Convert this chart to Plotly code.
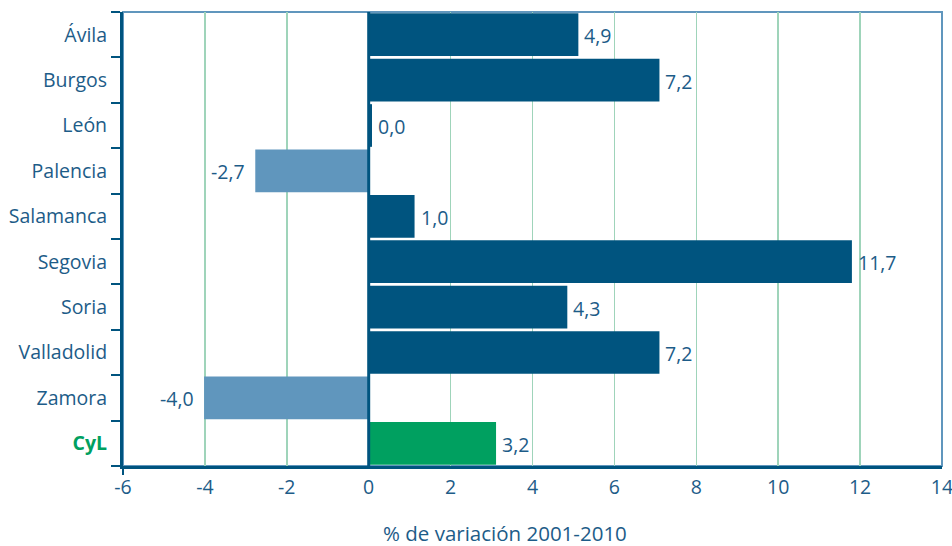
import plotly.graph_objects as go

# Data
provinces = ["Ávila", "Burgos", "León", "Palencia", "Salamanca",
             "Segovia", "Soria", "Valladolid", "Zamora", "CyL"]
bar_values = [5.12, 7.1, 0.08, -2.77, 1.12, 11.8, 4.85, 7.1, -4.02, 3.11]
value_labels = ["4,9", "7,2", "0,0", "-2,7", "1,0", "11,7", "4,3", "7,2", "-4,0", "3,2"]
x_ticks = [-6, -4, -2, 0, 2, 4, 6, 8, 10, 12, 14]
x_title = "% de variación 2001-2010"

DARK = "#00547f"
LIGHT = "#6096bd"
GREEN = "#00a060"
TEXT = "#1d5c88"
GRID = "#9fd4ba"
FONT = "Open Sans"
FS = 19.5

colors = []
for p, v in zip(provinces, bar_values):
    if p == "CyL":
        colors.append(GREEN)
    elif v < 0:
        colors.append(LIGHT)
    else:
        colors.append(DARK)

tick_text = [p if p != "CyL" else f"<b><span style='color:{GREEN}'>CyL</span></b>"
             for p in provinces]

fig = go.Figure(go.Bar(
    x=bar_values,
    y=provinces,
    orientation="h",
    marker=dict(color=colors, line=dict(width=0)),
    hoverinfo="skip",
))

annotations = []
for p, v, lab in zip(provinces, bar_values, value_labels):
    annotations.append(dict(
        x=v, y=p, xref="x", yref="y", text=lab, showarrow=False,
        xanchor="left" if v >= 0 else "right",
        xshift=4 if v >= 0 else -8, yshift=-1,
        font=dict(size=FS, color=TEXT, family=FONT),
    ))
# axis title (offset left of the plot centre, as in the reference)
annotations.append(dict(
    x=0.466, y=0, xref="paper", yref="paper", text=x_title, showarrow=False,
    xanchor="center", yanchor="middle", yshift=-67,
    font=dict(size=20.5, color=TEXT, family=FONT),
))

fig.update_layout(
    width=952, height=546,
    margin=dict(l=123, r=10, t=12, b=80, autoexpand=False),
    paper_bgcolor="white", plot_bgcolor="white",
    bargap=0.06,
    showlegend=False,
    font=dict(family=FONT, size=FS, color=TEXT),
    annotations=annotations,
    xaxis=dict(
        range=[-6, 14],
        tickvals=x_ticks,
        ticktext=[str(t) for t in x_ticks],
        showgrid=True, gridcolor=GRID, gridwidth=1.5,
        zeroline=False, automargin=False,
        showline=True, linecolor=DARK, linewidth=3,
        ticks="", tickfont=dict(size=FS, color=TEXT),
        ticklabeloverflow="allow", ticklabelstandoff=2,
    ),
    yaxis=dict(
        categoryorder="array", categoryarray=provinces,
        autorange="reversed", automargin=False,
        tickvals=provinces, ticktext=tick_text,
        showgrid=False, zeroline=False,
        showline=True, linecolor=DARK, linewidth=3,
        ticks="outside", tickson="boundaries", ticklen=9,
        tickwidth=2, tickcolor=DARK,
        tickfont=dict(size=FS, color=TEXT),
        ticklabelstandoff=9,
    ),
    shapes=[
        dict(type="rect", xref="paper", yref="paper", x0=0, x1=1, y0=0, y1=1,
             line=dict(color=LIGHT, width=2), layer="below"),
        dict(type="line", xref="x", yref="paper", x0=0, x1=0, y0=0, y1=1,
             line=dict(color=DARK, width=3), layer="above"),
        dict(type="line", xref="paper", yref="paper", x0=0, x1=0, y0=0, y1=-0.02,
             line=dict(color=DARK, width=2), layer="above"),
    ],
)

# remove the default page margin so the figure fills the window exactly
fig.write_html("out.html",
               config={"displayModeBar": False, "staticPlot": True},
               post_script="document.body.style.margin='0';document.body.style.overflow='hidden';")
